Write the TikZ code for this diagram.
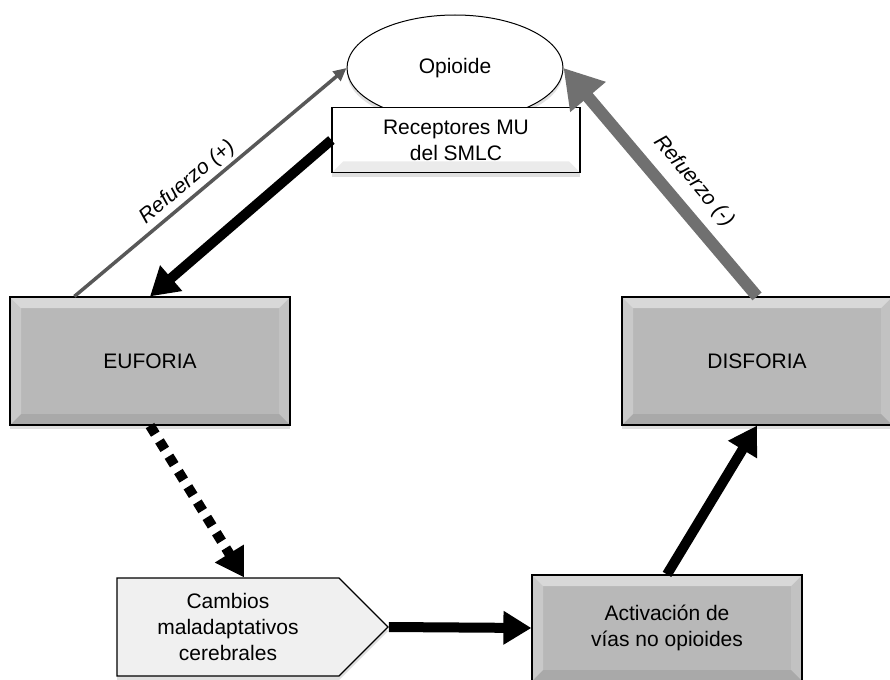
\documentclass[tikz,border=0pt]{standalone}
\usepackage{fontspec}
\setmainfont{Liberation Sans}
\usetikzlibrary{arrows.meta,shapes.geometric,shapes.symbols,shadows}
\definecolor{boxgray}{RGB}{184,184,184}
\definecolor{arrgray}{RGB}{112,112,112}
\definecolor{linegray}{RGB}{88,88,88}
\def\bb{path picture bounding box}
\tikzset{
  bevel/.style={path picture={
    \fill[white,opacity=.45] (\bb.north west) -- (\bb.north east) -- ([shift={(-11pt,-11pt)}]\bb.north east) -- ([shift={(11pt,-11pt)}]\bb.north west) -- cycle;
    \fill[white,opacity=.25] (\bb.north west) -- ([shift={(11pt,-11pt)}]\bb.north west) -- ([shift={(11pt,11pt)}]\bb.south west) -- (\bb.south west) -- cycle;
    \fill[white,opacity=.15] (\bb.north east) -- ([shift={(-11pt,-11pt)}]\bb.north east) -- ([shift={(-11pt,11pt)}]\bb.south east) -- (\bb.south east) -- cycle;
    \fill[black,opacity=.08] (\bb.south west) -- ([shift={(11pt,11pt)}]\bb.south west) -- ([shift={(-11pt,11pt)}]\bb.south east) -- (\bb.south east) -- cycle;
  }},
  shade box/.style={drop shadow={shadow xshift=0pt,shadow yshift=-4pt,opacity=.25}},
  graybox/.style={draw=black,line width=1.2pt,fill=boxgray,align=center,inner sep=0pt,shade box,bevel},
  whitebox/.style={draw=black,line width=1.2pt,fill=white,align=center,inner sep=0pt,shade box,bevel},
  blackarr/.style={line width=10pt,-{Triangle[length=28pt,width=32pt]}},
  grayarr/.style={draw=arrgray,line width=12pt,-{Triangle[length=38pt,width=44pt]}},
  thinarr/.style={draw=linegray,line width=3.5pt,-{Triangle[length=13pt,width=12pt]}},
  lbl/.style={font=\fontsize{21}{24}\selectfont\itshape,text=black}
}
\begin{document}
\begin{tikzpicture}[x=1pt,y=-1pt,font=\fontsize{21}{26}\selectfont]
\useasboundingbox (0,0) rectangle (890,679);
\node[ellipse,draw,line width=1pt,fill=white,minimum width=216pt,minimum height=106pt,inner sep=0pt,shade box] (opi) at (455,68) {Opioide};
\node[whitebox,minimum width=248pt,minimum height=65pt] (rec) at (456,140) {Receptores MU\\del SMLC};
\node[graybox,minimum width=280pt,minimum height=128pt] (euf) at (150,361) {EUFORIA};
\node[graybox,minimum width=270pt,minimum height=128pt] (dis) at (757,361) {DISFORIA};
\node[graybox,minimum width=270pt,minimum height=106pt] (act) at (667,628) {Activación de\\vías no opioides};
\node[signal,signal to=east,signal pointer angle=90,draw=black,line width=1.2pt,fill=gray!12,align=center,inner sep=0pt,shade box,minimum width=271pt,minimum height=98pt] (camb) at (228,627) {Cambios\\maladaptativos\\cerebrales};

\draw[thinarr] ([xshift=65pt]euf.north west) -- node[lbl,sloped,above,pos=.45] {Refuerzo (+)} (opi.west);
\draw[blackarr] (rec.west) -- (euf.north);
\draw[grayarr] (dis.north) -- node[lbl,sloped,above=7pt,pos=.43] {Refuerzo (-)} (opi.east);
\draw[blackarr,dash pattern=on 10pt off 8pt] (euf.south) -- ([xshift=16pt]camb.north);
\draw[blackarr] (camb.east) -- (act.west);
\draw[blackarr] (act.north) -- (dis.south);
\end{tikzpicture}
\end{document}
